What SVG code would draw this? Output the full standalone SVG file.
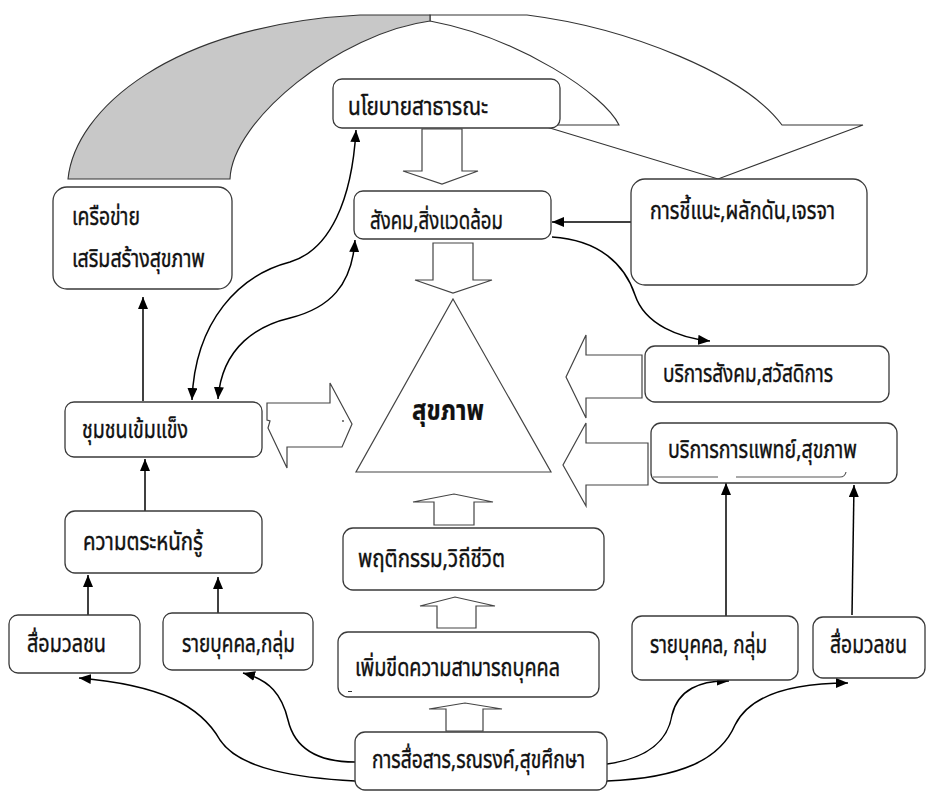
<svg xmlns="http://www.w3.org/2000/svg" width="929" height="794" viewBox="0 0 929 794">
<defs>
<style>
.box{fill:#fff;stroke:#3a3a3a;stroke-width:1.3}
.t{font-family:"Noto Sans Thai","Tahoma","DejaVu Sans","Noto Sans",sans-serif;font-size:24px;fill:#111;stroke:#111;stroke-width:0.4}
.big{font-size:29px;font-weight:bold;stroke-width:0.2}
.con{fill:none;stroke:#000;stroke-width:1.5}
.blk{fill:#fff;stroke:#444;stroke-width:1.2;stroke-linejoin:miter}
</style>
<marker id="ah" markerUnits="userSpaceOnUse" markerWidth="12" markerHeight="10" refX="12" refY="5" orient="auto-start-reverse">
<path d="M0,0 L12,5 L0,10 z" fill="#000"/>
</marker>
</defs>
<rect width="929" height="794" fill="#fff"/>

<g id="big-curved-arrow">
<path d="M430,15 L527,15 C630,28 745,75 782,125 L863,125 L718,179 L540,125 L619,125 C605,95 520,38 430,21 Z" fill="#fff" stroke="#333" stroke-width="1.1"/>
<path d="M68,179 C75,110 170,25 360,15 L430,15 L430,21 C340,33 232,120 230,179 Z" fill="#c8c8c8" stroke="#333" stroke-width="1.1"/>
</g>

<g id="connectors">
<path class="con" d="M192,400 C195,320 240,275 290,262 C330,250 352,200 356,130" marker-start="url(#ah)" marker-end="url(#ah)"/>
<path class="con" d="M218,399 C222,345 260,325 290,318 C330,308 352,285 355,240" marker-start="url(#ah)" marker-end="url(#ah)"/>
<path class="con" d="M631,222 L552,222" marker-end="url(#ah)"/>
<path class="con" d="M552,237 C600,240 625,265 635,295 C645,325 680,338 710,341" marker-end="url(#ah)"/>
<path class="con" d="M145,511 L145,459" marker-end="url(#ah)"/>
<path class="con" d="M143,401 L143,297" marker-end="url(#ah)"/>
<path class="con" d="M88,615 L88,575" marker-end="url(#ah)"/>
<path class="con" d="M218,613 L218,577" marker-end="url(#ah)"/>
<path class="con" d="M726,616 L726,483" marker-end="url(#ah)"/>
<path class="con" d="M852,615 L854,485" marker-end="url(#ah)"/>
<path class="con" d="M355,781 C300,778 240,770 220,740 C200,705 160,685 79,678" marker-end="url(#ah)"/>
<path class="con" d="M355,762 C320,762 295,750 288,720 C282,695 270,680 243,673" marker-end="url(#ah)"/>
<path class="con" d="M607,764 C650,758 668,740 672,715 C678,690 700,680 729,681" marker-end="url(#ah)"/>
<path class="con" d="M607,781 C680,778 720,760 735,725 C750,695 790,683 848,683" marker-end="url(#ah)"/>
</g>

<g id="block-arrows">
<polygon class="blk" points="422,129 462,129 462,171 478,171 442,184 403,171 422,171"/>
<polygon class="blk" points="433,243 473,243 473,280 492,280 453,293 415,280 433,280"/>
<polygon class="blk" points="434,525 474,525 474,502 493,502 454,494 413,502 434,502"/>
<polygon class="blk" points="437,628 476,628 476,606 495,606 455,597 420,606 437,606"/>
<polygon class="blk" points="446,731 483,731 483,709 502,709 465,703 429,709 446,709"/>
<polygon class="blk" points="267,403 330,403 330,383 352,424 342,447 287,447 287,468 268,428 270,421 267,420"/>
<circle cx="343" cy="421" r="0.9" fill="#444"/>
<polygon class="blk" points="642,355 586,355 586,335 566,377 586,418 586,398 642,398"/>
<polygon class="blk" points="648,443 586,443 586,423 563,465 586,506 586,485 648,485"/>
</g>

<g id="health">
<polygon points="453,299 551,472 356,472" fill="#fff" stroke="#444" stroke-width="1.2"/>
<text class="t big" x="412" y="420" textLength="72" lengthAdjust="spacingAndGlyphs">สุขภาพ</text>
</g>

<g id="policy">
<rect class="box" x="333" y="79" width="227" height="49" rx="9"/>
<text class="t" x="348" y="115" textLength="140" lengthAdjust="spacingAndGlyphs">นโยบายสาธารณะ</text>
</g>

<g id="social-env">
<rect class="box" x="354" y="191" width="197" height="48" rx="9"/>
<text class="t" x="370" y="229" textLength="133" lengthAdjust="spacingAndGlyphs">สังคม,สิ่งแวดล้อม</text>
</g>

<g id="advocacy">
<rect class="box" x="631" y="179" width="236" height="106" rx="14"/>
<text class="t" x="650" y="219" textLength="185" lengthAdjust="spacingAndGlyphs">การชี้แนะ,ผลักดัน,เจรจา</text>
</g>

<g id="network">
<rect class="box" x="53" y="187" width="179" height="102" rx="14"/>
<text class="t" x="72" y="225" textLength="68" lengthAdjust="spacingAndGlyphs">เครือข่าย</text>
<text class="t" x="72" y="267" textLength="133" lengthAdjust="spacingAndGlyphs">เสริมสร้างสุขภาพ</text>
</g>

<g id="community">
<rect class="box" x="65" y="402" width="197" height="55" rx="9"/>
<text class="t" x="82" y="438" textLength="106" lengthAdjust="spacingAndGlyphs">ชุมชนเข้มแข็ง</text>
</g>

<g id="awareness">
<rect class="box" x="65" y="511" width="197" height="62" rx="10"/>
<text class="t" x="83" y="550" textLength="120" lengthAdjust="spacingAndGlyphs">ความตระหนักรู้</text>
</g>

<g id="media-left">
<rect class="box" x="9" y="615" width="131" height="58" rx="9"/>
<text class="t" x="27" y="652" textLength="79" lengthAdjust="spacingAndGlyphs">สื่อมวลชน</text>
</g>

<g id="individual-left">
<rect class="box" x="163" y="613" width="150" height="57" rx="9"/>
<text class="t" x="182" y="652" textLength="113" lengthAdjust="spacingAndGlyphs">รายบุคคล,กลุ่ม</text>
</g>

<g id="behavior">
<rect class="box" x="343" y="528" width="261" height="62" rx="10"/>
<text class="t" x="358" y="567" textLength="147" lengthAdjust="spacingAndGlyphs">พฤติกรรม,วิถีชีวิต</text>
</g>

<g id="capacity">
<rect class="box" x="338" y="632" width="261" height="65" rx="10"/>
<text class="t" x="355" y="676" textLength="205" lengthAdjust="spacingAndGlyphs">เพิ่มขีดความสามารถบุคคล</text>
<path d="M348,691.5 L352,691.5" stroke="#333" stroke-width="1"/>
</g>

<g id="communication">
<rect class="box" x="355" y="732" width="252" height="58" rx="10"/>
<text class="t" x="372" y="768" textLength="213" lengthAdjust="spacingAndGlyphs">การสื่อสาร,รณรงค์,สุขศึกษา</text>
</g>

<g id="social-services">
<rect class="box" x="645" y="346" width="244" height="56" rx="10"/>
<text class="t" x="663" y="382" textLength="170" lengthAdjust="spacingAndGlyphs">บริการสังคม,สวัสดิการ</text>
</g>

<g id="medical-services">
<rect class="box" x="651" y="423" width="246" height="60" rx="10"/>
<path d="M653,477 L718,477 M736,477 L840,477 Q845,477 846,472" fill="none" stroke="#555" stroke-width="1.2"/>
<text class="t" x="668" y="458" textLength="189" lengthAdjust="spacingAndGlyphs">บริการการแพทย์,สุขภาพ</text>
</g>

<g id="individual-right">
<rect class="box" x="632" y="616" width="166" height="64" rx="10"/>
<text class="t" x="650" y="653" textLength="117" lengthAdjust="spacingAndGlyphs">รายบุคคล, กลุ่ม</text>
</g>

<g id="media-right">
<rect class="box" x="813" y="617" width="112" height="61" rx="10"/>
<text class="t" x="830" y="653" textLength="77" lengthAdjust="spacingAndGlyphs">สื่อมวลชน</text>
</g>
</svg>
